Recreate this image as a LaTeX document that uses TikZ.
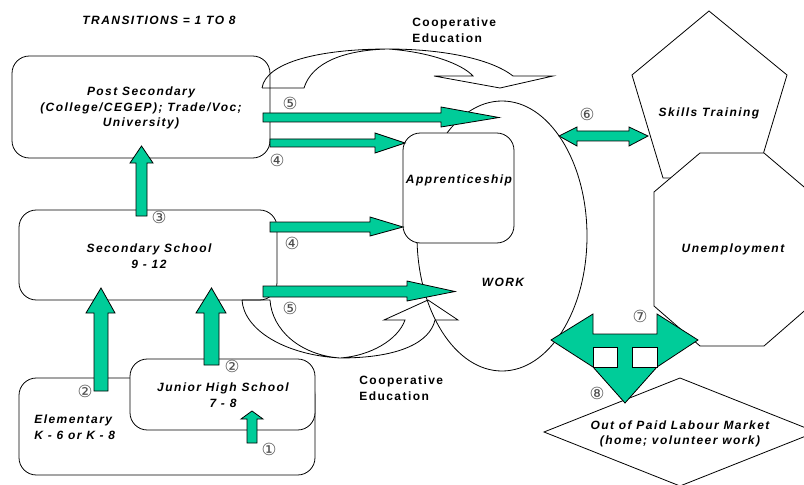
\documentclass[tikz,border=0pt]{standalone}
\usepackage{fontspec}
\setmainfont{Liberation Sans}
\newfontfamily\boxfont{Liberation Sans}[LetterSpace=12]
\newfontfamily\numfont{DejaVu Sans}
\usetikzlibrary{shapes.geometric,fit,positioning}
\definecolor{transgreen}{RGB}{0,204,153}

\tikzset{
  box/.style={draw, rounded corners=13pt, fill=white, inner sep=0pt},
  boxtext/.style={font=\boxfont\bfseries\itshape\fontsize{9}{11.6}\selectfont, align=center, inner sep=0pt},
  cooptext/.style={font=\boxfont\bfseries\fontsize{9}{11.6}\selectfont, align=left, inner sep=0pt},
  transnum/.style={font=\numfont\fontsize{12.5}{14}\selectfont, text=black!70, inner sep=0pt},
  greenarrow/.style={draw, fill=transgreen, line join=miter},
  coopline/.style={draw, line join=miter},
}

\begin{document}
\begin{tikzpicture}[x=0.75pt, y=-0.75pt, line width=0.6pt]
    \useasboundingbox (0,0) rectangle (804,485);
    \clip (0,0) rectangle (804,485);

    % Work and the boxes
    \node[draw, ellipse, fill=white, inner sep=0pt, minimum width=127.5pt, minimum height=202.5pt] (work) at (502,236) {};
    \node[box, fit={(12,56) (270,158)}] (post) {};
    \node[box, fit={(19,210) (277,300)}] (secondary) {};
    \node[box, fit={(19,378) (315,475)}] (elementary) {};
    \node[box, fit={(130,359) (315,430)}] (junior) {};
    \node[box, fit={(403,133) (514,243)}] (appr) {};

    % Cooperative Education (top and bottom)
    \draw[coopline] (262,88) -- (304,88)
        .. controls (312,62) and (345,50) .. (388,49)
        .. controls (430,52) and (462,64) .. (473,76)
        -- (434,76) -- (500,88) -- (553,76) -- (513,76)
        .. controls (490,58) and (440,49) .. (388,49)
        .. controls (320,49) and (266,62) .. (262,88);
    \draw[coopline] (242,300) -- (270,300)
        .. controls (272,330) and (300,355) .. (340,358)
        .. controls (370,356) and (398,340) .. (405,320)
        -- (384,320) -- (428,300) -- (458,320) -- (435,320)
        .. controls (430,342) and (400,358) .. (340,358)
        .. controls (285,355) and (244,330) .. (242,300);

    % Skills Training, Unemployment, Out of Paid Labour Market
    \draw[fill=white] (709,11) -- (787,75) -- (756,178) -- (663,178) -- (632,75) -- cycle;
    \draw[fill=white] (700,153) -- (764,153) -- (810,192) -- (810,306) -- (764,346)
        -- (700,346) -- (654,306) -- (654,192) -- cycle;
    \draw[fill=white] (544,432) -- (680,378) -- (816,432) -- (680,486) -- cycle;

    % Up arrows
    \draw[greenarrow] (136,216) -- (136,163) -- (130,163) -- (141.5,146) -- (153,163) -- (147,163) -- (147,216) -- cycle;
    \draw[greenarrow] (94,391) -- (94,313) -- (86,313) -- (101,288) -- (115,313) -- (108,313) -- (108,391) -- cycle;
    \draw[greenarrow] (204,365) -- (204,313) -- (196,313) -- (211.5,288) -- (226,313) -- (219,313) -- (219,365) -- cycle;
    \draw[greenarrow] (247,443) -- (247,419) -- (241,419) -- (252,411) -- (263,419) -- (257,419) -- (257,443) -- cycle;

    % Right arrows
    \draw[greenarrow] (263,113) -- (441,113) -- (441,107) -- (499,117.5) -- (441,127) -- (441,122) -- (263,122) -- cycle;
    \draw[greenarrow] (270,139) -- (375,139) -- (375,133) -- (405,143) -- (375,153) -- (375,147) -- (270,147) -- cycle;
    \draw[greenarrow] (270,222) -- (370,222) -- (370,217) -- (403,227) -- (370,236) -- (370,232) -- (270,232) -- cycle;
    \draw[greenarrow] (263,286) -- (407,286) -- (407,281) -- (455,291.5) -- (407,301) -- (407,297) -- (263,297) -- cycle;

    % Work <-> Skills Training
    \draw[greenarrow] (559,136) -- (577,127) -- (577,131) -- (629,131) -- (629,127) -- (648,136)
        -- (629,146) -- (629,141) -- (577,141) -- (577,146) -- cycle;

    % Work <-> Unemployment, down to Out of Paid Labour Market
    \draw[greenarrow] (551,340) -- (593,314) -- (593,334) -- (657,334) -- (657,314) -- (698,340)
        -- (657,367) -- (625,403) -- (593,367) -- cycle;
    \draw[fill=white] (593,347) rectangle (617,367);
    \draw[fill=white] (632,347) rectangle (657,367);

    % Labels
    \node[boxtext] (title) at (159,20) {TRANSITIONS = 1 TO 8};
    \node[boxtext] (posttext) at (141,108) {Post Secondary\\(College/CEGEP); Trade/Voc;\\University)};
    \node[boxtext] (sectext) at (149,256) {Secondary School\\9 - 12};
    \node[boxtext] (juniortext) at (223,395) {Junior High School\\7 - 8};
    \node[boxtext, align=left, anchor=west] (elemtext) at (34,427) {Elementary\\K - 6 or K - 8};
    \node[boxtext] (apprtext) at (459,180) {Apprenticeship};
    \node[boxtext] (worktext) at (503,282) {WORK};
    \node[boxtext] (skills) at (709,113) {Skills Training};
    \node[boxtext] (unemp) at (733,249) {Unemployment};
    \node[boxtext] (outtext) at (680,434) {Out of Paid Labour Market\\(home; volunteer work)};
    \node[cooptext, anchor=west] (cooptop) at (412,30) {Cooperative\\Education};
    \node[cooptext, anchor=west] (coopbottom) at (359,388) {Cooperative\\Education};

    % Transition numbers
    \node[transnum] (t1) at (269,449) {①};
    \node[transnum] (t2a) at (85,391) {②};
    \node[transnum] (t2b) at (232,366) {②};
    \node[transnum] (t3) at (159,217) {③};
    \node[transnum] (t4a) at (277,160) {④};
    \node[transnum] (t4b) at (292,243) {④};
    \node[transnum] (t5a) at (290,103) {⑤};
    \node[transnum] (t5b) at (290,308) {⑤};
    \node[transnum] (t6) at (587,114) {⑥};
    \node[transnum] (t7) at (640,316) {⑦};
    \node[transnum] (t8) at (597,393) {⑧};
\end{tikzpicture}
\end{document}
